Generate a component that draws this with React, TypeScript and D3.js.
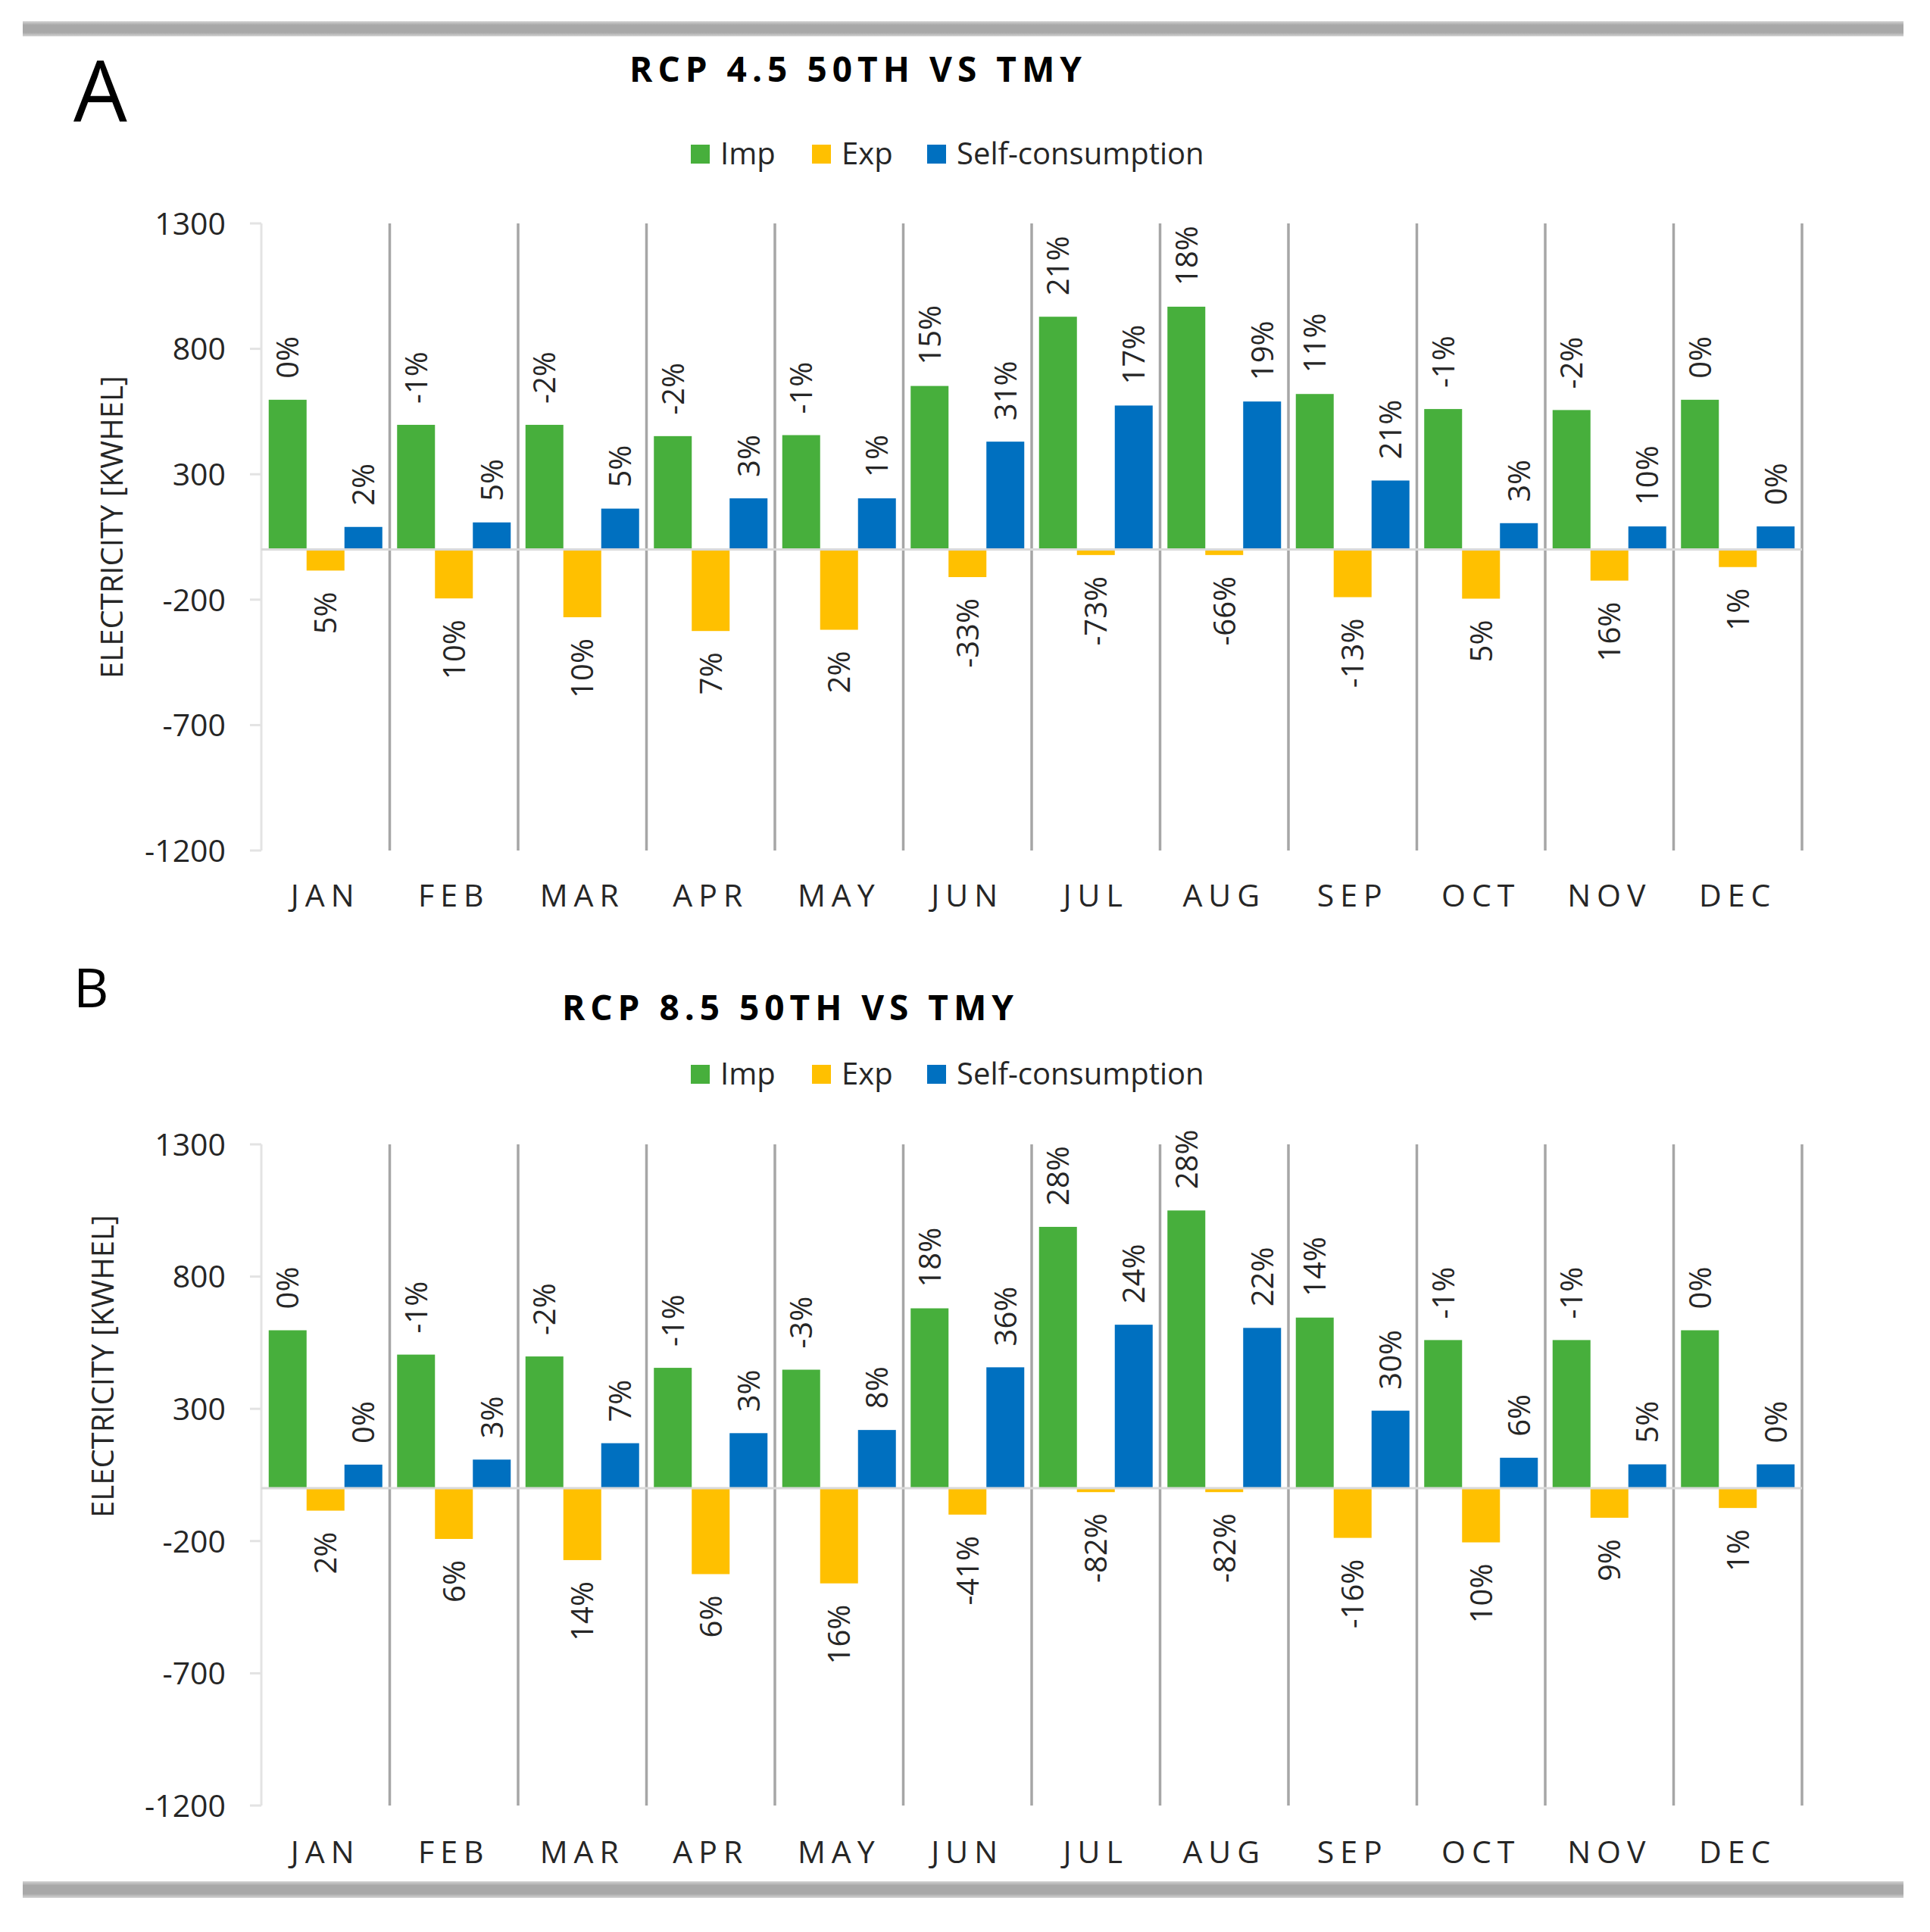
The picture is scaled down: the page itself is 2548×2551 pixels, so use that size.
import * as d3 from "d3";

// ---- data ----
const months = ["JAN", "FEB", "MAR", "APR", "MAY", "JUN", "JUL", "AUG", "SEP", "OCT", "NOV", "DEC"];
const seriesNames = ["Imp", "Exp", "Self-consumption"];
const seriesColors = ["#47AF3C", "#FFC000", "#0070C0"];
const yTicks = [1300, 800, 300, -200, -700, -1200];

// panel A: RCP 4.5
const impA = [597, 497, 497, 452, 456, 652, 928, 968, 620, 560, 556, 597];
const expA = [-84, -195, -270, -325, -320, -110, -22, -22, -190, -196, -124, -70];
const selfA = [90, 108, 163, 204, 204, 430, 574, 590, 275, 105, 92, 92];
const impPctA = ["0%", "-1%", "-2%", "-2%", "-1%", "15%", "21%", "18%", "11%", "-1%", "-2%", "0%"];
const expPctA = ["5%", "10%", "10%", "7%", "2%", "-33%", "-73%", "-66%", "-13%", "5%", "16%", "1%"];
const selfPctA = ["2%", "5%", "5%", "3%", "1%", "31%", "17%", "19%", "21%", "3%", "10%", "0%"];

// panel B: RCP 8.5
const impB = [597, 505, 498, 455, 448, 680, 988, 1050, 645, 560, 560, 597];
const expB = [-85, -192, -272, -325, -360, -100, -15, -15, -188, -205, -112, -75];
const selfB = [89, 108, 170, 208, 220, 457, 618, 606, 293, 115, 90, 90];
const impPctB = ["0%", "-1%", "-2%", "-1%", "-3%", "18%", "28%", "28%", "14%", "-1%", "-1%", "0%"];
const expPctB = ["2%", "6%", "14%", "6%", "16%", "-41%", "-82%", "-82%", "-16%", "10%", "9%", "1%"];
const selfPctB = ["0%", "3%", "7%", "3%", "8%", "36%", "24%", "22%", "30%", "6%", "5%", "0%"];

const W = 2548;
const H = 2551;
const PLOT_LEFT = 345;
const PLOT_RIGHT = 2379;
const FONT = "'Open Sans', 'Noto Sans', sans-serif";
const TEXT = "#262626";

interface PanelProps {
  letter: string;
  letterSize: number;
  letterY: number;
  title: string;
  titleX0: number;
  titleX1: number;
  titleY: number;
  legendY: number;
  yTop: number;
  yBottom: number;
  axisTitleX: number;
  axisTitleCy: number;
  catY: number;
  values: number[][];
  pcts: string[][];
}

function Panel(p: PanelProps) {
  const x = d3.scaleBand<string>().domain(months).range([PLOT_LEFT, PLOT_RIGHT]);
  const inner = d3
    .scaleBand<number>()
    .domain([0, 1, 2])
    .range([0, x.bandwidth()])
    .paddingOuter(0.195);
  const y = d3.scaleLinear().domain([-1200, 1300]).range([p.yBottom, p.yTop]);
  const y0 = y(0);
  const gap = 28;

  const legendX = [912, 1072, 1224];

  return (
    <g>
      <text x={97} y={p.letterY} fontSize={p.letterSize} fontFamily={FONT} fill="#000">
        {p.letter}
      </text>
      <text
        x={p.titleX0}
        y={p.titleY}
        fontSize={46}
        fontWeight="bold"
        fontFamily={FONT}
        fill="#000"
        textLength={p.titleX1 - p.titleX0}
        lengthAdjust="spacing"
      >
        {p.title}
      </text>

      {/* legend */}
      {seriesNames.map((name, i) => (
        <g key={name}>
          <rect x={legendX[i]} y={p.legendY - 12} width={25} height={25} fill={seriesColors[i]} />
          <text x={legendX[i] + 39} y={p.legendY} dy="0.36em" fontSize={40} fontFamily={FONT} fill={TEXT}>
            {name}
          </text>
        </g>
      ))}

      {/* y axis */}
      <line x1={PLOT_LEFT} x2={PLOT_LEFT} y1={p.yTop} y2={p.yBottom} stroke="#e3e3e3" strokeWidth={3} />
      {yTicks.map((t) => (
        <g key={t}>
          <line x1={PLOT_LEFT - 15} x2={PLOT_LEFT} y1={y(t)} y2={y(t)} stroke="#e3e3e3" strokeWidth={3} />
          <text
            x={298}
            y={y(t)}
            dy="0.36em"
            textAnchor="end"
            fontSize={41}
            fontFamily={FONT}
            fill={TEXT}
          >
            {t}
          </text>
        </g>
      ))}
      <text
        transform={`translate(${p.axisTitleX},${p.axisTitleCy}) rotate(-90)`}
        textAnchor="middle"
        fontSize={40}
        fontFamily={FONT}
        fill={TEXT}
      >
        ELECTRICITY [KWHEL]
      </text>

      {/* month separators */}
      {months.map((m) => (
        <line
          key={m}
          x1={(x(m) ?? 0) + x.step()}
          x2={(x(m) ?? 0) + x.step()}
          y1={p.yTop}
          y2={p.yBottom}
          stroke="#a6a6a6"
          strokeWidth={3.5}
        />
      ))}

      {/* bars and labels */}
      {months.map((m, mi) => (
        <g key={m} transform={`translate(${x(m)},0)`}>
          {p.values.map((vals, si) => {
            const v = vals[mi];
            const bx = inner(si) ?? 0;
            const bw = inner.bandwidth();
            const top = Math.min(y(v), y0);
            const h = Math.abs(y(v) - y0);
            const cx = bx + bw / 2;
            const ly = v >= 0 ? y(v) - gap : y(v) + gap;
            return (
              <g key={si}>
                <rect x={bx} y={top} width={bw} height={h} fill={seriesColors[si]} />
                <text
                  transform={`translate(${cx},${ly}) rotate(-90)`}
                  dy="0.36em"
                  textAnchor={v >= 0 ? "start" : "end"}
                  fontSize={40}
                  fontFamily={FONT}
                  fill={TEXT}
                >
                  {p.pcts[si][mi]}
                </text>
              </g>
            );
          })}
          <text
            x={x.bandwidth() / 2}
            y={p.catY}
            textAnchor="middle"
            fontSize={41}
            letterSpacing={8}
            fontFamily={FONT}
            fill={TEXT}
          >
            {m}
          </text>
        </g>
      ))}

      {/* zero line */}
      <line x1={PLOT_LEFT} x2={PLOT_RIGHT} y1={y0} y2={y0} stroke="#d9d9d9" strokeWidth={3} />
    </g>
  );
}

export default function App() {
  return (
    <>
      <style>{`body{margin:0}`}</style>
      <svg width={W} height={H} viewBox={`0 0 ${W} ${H}`} style={{ display: "block", background: "#fff" }}>
        <defs>
          <linearGradient id="rule" x1="0" y1="0" x2="0" y2="1">
            <stop offset="0" stopColor="#d4d4d4" />
            <stop offset="0.25" stopColor="#a8a8a8" />
            <stop offset="0.75" stopColor="#a8a8a8" />
            <stop offset="1" stopColor="#d4d4d4" />
          </linearGradient>
        </defs>
        <rect x={0} y={0} width={W} height={H} fill="#fff" />
        <rect x={30} y={28} width={2483} height={20} fill="url(#rule)" />
        <rect x={30} y={2484} width={2483} height={22} fill="url(#rule)" />

        <Panel
          letter="A"
          letterSize={112}
          letterY={160}
          title="RCP 4.5  50TH  VS  TMY"
          titleX0={831}
          titleX1={1428}
          titleY={108}
          legendY={203}
          yTop={295}
          yBottom={1123}
          axisTitleX={162}
          axisTitleCy={696}
          catY={1197}
          values={[impA, expA, selfA]}
          pcts={[impPctA, expPctA, selfPctA]}
        />
        <Panel
          letter="B"
          letterSize={72}
          letterY={1330}
          title="RCP 8.5  50TH  VS  TMY"
          titleX0={742}
          titleX1={1338}
          titleY={1347}
          legendY={1418}
          yTop={1511}
          yBottom={2384}
          axisTitleX={150}
          axisTitleCy={1804}
          catY={2460}
          values={[impB, expB, selfB]}
          pcts={[impPctB, expPctB, selfPctB]}
        />
      </svg>
    </>
  );
}
